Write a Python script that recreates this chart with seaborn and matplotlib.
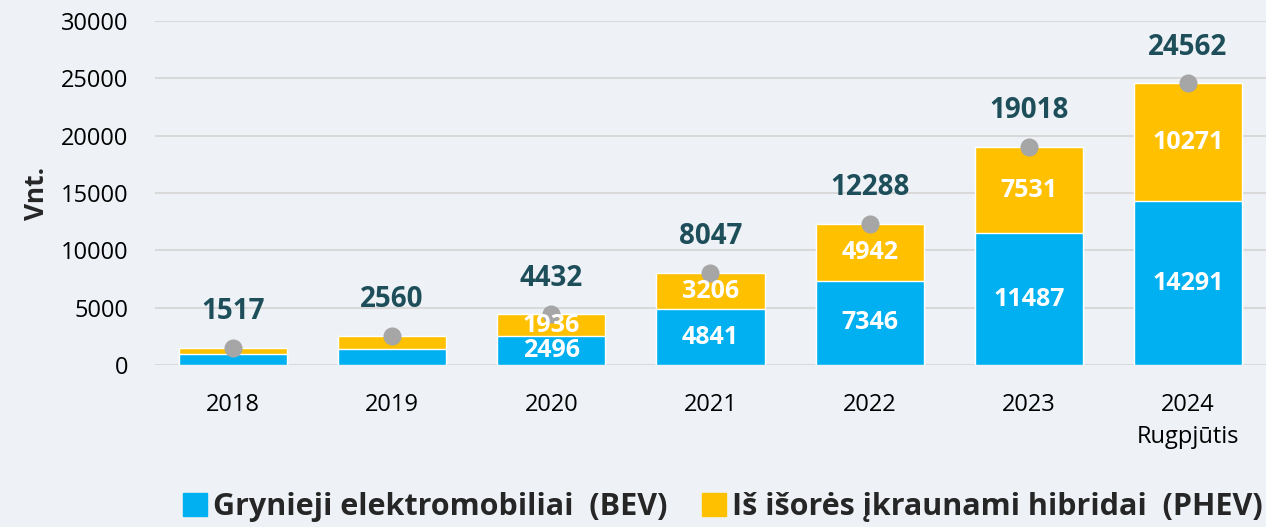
import matplotlib
matplotlib.use("Agg")
import matplotlib.pyplot as plt
import seaborn as sns
import pandas as pd
from matplotlib.patches import Patch

years = ["2018", "2019", "2020", "2021", "2022", "2023", "2024\nRugpjūtis"]
bev = [990, 1430, 2496, 4841, 7346, 11487, 14291]
phev = [527, 1130, 1936, 3206, 4942, 7531, 10271]
totals = [1517, 2560, 4432, 8047, 12288, 19018, 24562]
# segment labels are only shown from 2020 on
show_labels = [False, False, True, True, True, True, True]

bev_color = "#00B0F0"
phev_color = "#FFC000"
bg = "#EEF2F7"

df = pd.DataFrame({"year": years, "bev": bev, "phev": phev, "total": totals})

sns.set_theme(style="white")
plt.rcParams["font.family"] = ["Open Sans", "DejaVu Sans"]

fig, ax = plt.subplots(figsize=(12.66, 5.27), dpi=100)
fig.patch.set_facecolor(bg)
ax.set_facecolor(bg)
fig.subplots_adjust(left=155 / 1266, right=1.0, top=1 - 21 / 527, bottom=1 - 365 / 527)

# stacked bars: total in orange, BEV drawn over it in blue
sns.barplot(data=df, x="year", y="total", color=phev_color, width=0.68,
            saturation=1, ax=ax, zorder=2)
sns.barplot(data=df, x="year", y="bev", color=bev_color, width=0.68,
            saturation=1, ax=ax, zorder=3)

# grey dots at the totals
sns.pointplot(data=df, x="year", y="total", color="#A6A6A6", linestyle="none",
              markers="o", markersize=11, ax=ax, zorder=5)

for i, row in df.iterrows():
    ax.annotate(str(row.total), (i, row.total), xytext=(0, 26), textcoords="offset points",
                ha="center", va="center", fontsize=20, fontweight="bold", color="#1D4E5A")
    if show_labels[i]:
        ax.text(i, row.bev / 2, str(row.bev), ha="center", va="center",
                fontsize=18, fontweight="bold", color="white", zorder=6)
        ax.text(i, row.bev + row.phev / 2, str(row.phev), ha="center", va="center",
                fontsize=18, fontweight="bold", color="white", zorder=6)

ax.set_ylim(0, 30000)
ax.set_xlim(-0.49, 6.49)
ax.set_yticks(range(0, 30001, 5000))
ax.yaxis.grid(True, color="#D9D9D9", linewidth=1.5, zorder=0)
ax.set_axisbelow(True)
for s in ax.spines.values():
    s.set_visible(False)
ax.tick_params(axis="both", length=0, labelsize=17, colors="black")
ax.tick_params(axis="x", pad=20)
ax.tick_params(axis="y", pad=19)
for lbl in ax.get_xticklabels():
    lbl.set_linespacing(1.45)
ax.set_xlabel("")
ax.set_ylabel("Vnt.", fontsize=19, fontweight="bold", labelpad=8)

handles = [Patch(color=bev_color, label="Grynieji elektromobiliai  (BEV)"),
           Patch(color=phev_color, label="Iš išorės įkraunami hibridai  (PHEV)")]
fig.legend(handles=handles, loc="center", bbox_to_anchor=(0.571, 0.038), ncol=2,
           frameon=False, prop={"size": 22, "weight": "bold"},
           handlelength=0.8, handleheight=0.8, handletextpad=0.2, columnspacing=1.1)

fig.savefig("out.png", dpi=100, facecolor=bg)
